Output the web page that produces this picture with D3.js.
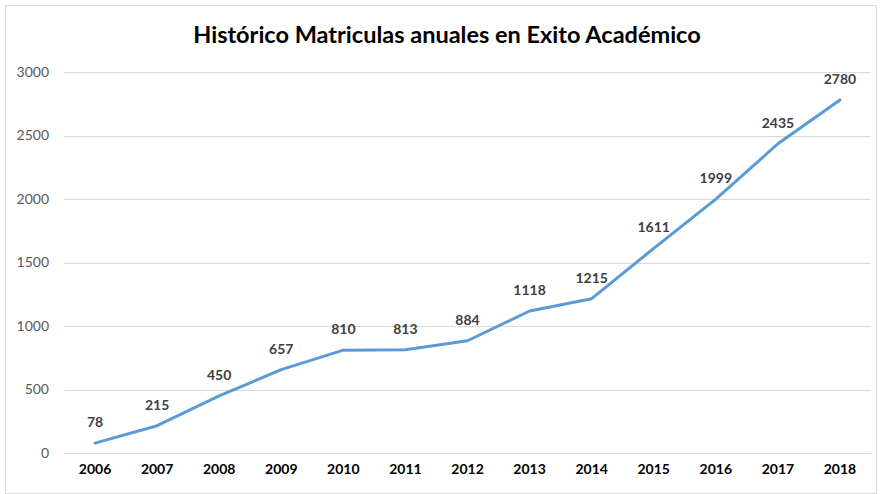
<!DOCTYPE html>
<html>
<head>
<meta charset="utf-8">
<script src="https://cdn.jsdelivr.net/npm/d3@7"></script>
<style>
  body { margin: 0; background: #fff; }
  text { font-family: Lato, "Open Sans", sans-serif; }
</style>
</head>
<body>
<div id="chart"></div>
<script>
var years = ['2006', '2007', '2008', '2009', '2010', '2011', '2012', '2013', '2014', '2015', '2016', '2017', '2018'];
var matriculas = [78, 215, 450, 657, 810, 813, 884, 1118, 1215, 1611, 1999, 2435, 2780];
var yTicks = [0, 500, 1000, 1500, 2000, 2500, 3000];

var width = 882, height = 494
    , margin = { top: 72, right: 11, bottom: 41, left: 64 };

var svg = d3.select('#chart')
    .append('svg')
    .attr('width', width)
    .attr('height', height);

// chart frame
svg.append('rect')
    .attr('x', 5.5).attr('y', 5.5)
    .attr('width', width - 11).attr('height', height - 6)
    .attr('fill', '#fff')
    .attr('stroke', '#d9d9d9');

var x = d3.scaleBand()
    .domain(years)
    .range([margin.left, width - margin.right]);

var y = d3.scaleLinear()
    .domain([0, 3000])
    .range([height - margin.bottom, margin.top]);

// gridlines
svg.append('g')
    .selectAll('line')
    .data(yTicks)
    .enter().append('line')
    .attr('x1', margin.left)
    .attr('x2', width - margin.right)
    .attr('y1', function(d) { return Math.round(y(d)) + 0.5; })
    .attr('y2', function(d) { return Math.round(y(d)) + 0.5; })
    .attr('stroke', '#d9d9d9')
    .attr('stroke-width', 1);

// y axis labels
var yAxis = d3.axisLeft(y).tickValues(yTicks).tickFormat(d3.format('d')).tickSize(0).tickPadding(15);
svg.append('g')
    .attr('transform', 'translate(' + margin.left + ',0)')
    .call(yAxis)
    .call(function(g) { g.select('.domain').remove(); })
    .selectAll('text')
    .attr('font-size', 14)
    .attr('fill', '#595959')
    .style('font-family', 'Lato, sans-serif');

// x axis labels
var xAxis = d3.axisBottom(x).tickSize(0).tickPadding(11);
svg.append('g')
    .attr('transform', 'translate(0,' + (height - margin.bottom) + ')')
    .call(xAxis)
    .call(function(g) { g.select('.domain').remove(); })
    .selectAll('text')
    .attr('font-size', 14)
    .attr('font-weight', 'bold')
    .attr('fill', '#000')
    .style('font-family', 'Lato, sans-serif');

// line
var line = d3.line()
    .x(function(d, i) { return x(years[i]) + x.bandwidth() / 2; })
    .y(function(d) { return y(d); });

svg.append('path')
    .datum(matriculas)
    .attr('d', line)
    .attr('fill', 'none')
    .attr('stroke', '#5b9bd5')
    .attr('stroke-width', 3)
    .attr('stroke-linejoin', 'round')
    .attr('stroke-linecap', 'round');

// data labels
svg.append('g')
    .selectAll('text')
    .data(matriculas)
    .enter().append('text')
    .attr('x', function(d, i) { return x(years[i]) + x.bandwidth() / 2; })
    .attr('y', function(d) { return y(d) - 16; })
    .attr('text-anchor', 'middle')
    .attr('font-size', 14)
    .attr('font-weight', 'bold')
    .attr('fill', '#404040')
    .text(function(d) { return d; });

// title
svg.append('text')
    .attr('x', 447)
    .attr('y', 43)
    .attr('text-anchor', 'middle')
    .attr('font-size', 23.5)
    .attr('font-weight', 'bold')
    .attr('fill', '#000')
    .text('Histórico Matriculas anuales en Exito Académico');
</script>
</body>
</html>
